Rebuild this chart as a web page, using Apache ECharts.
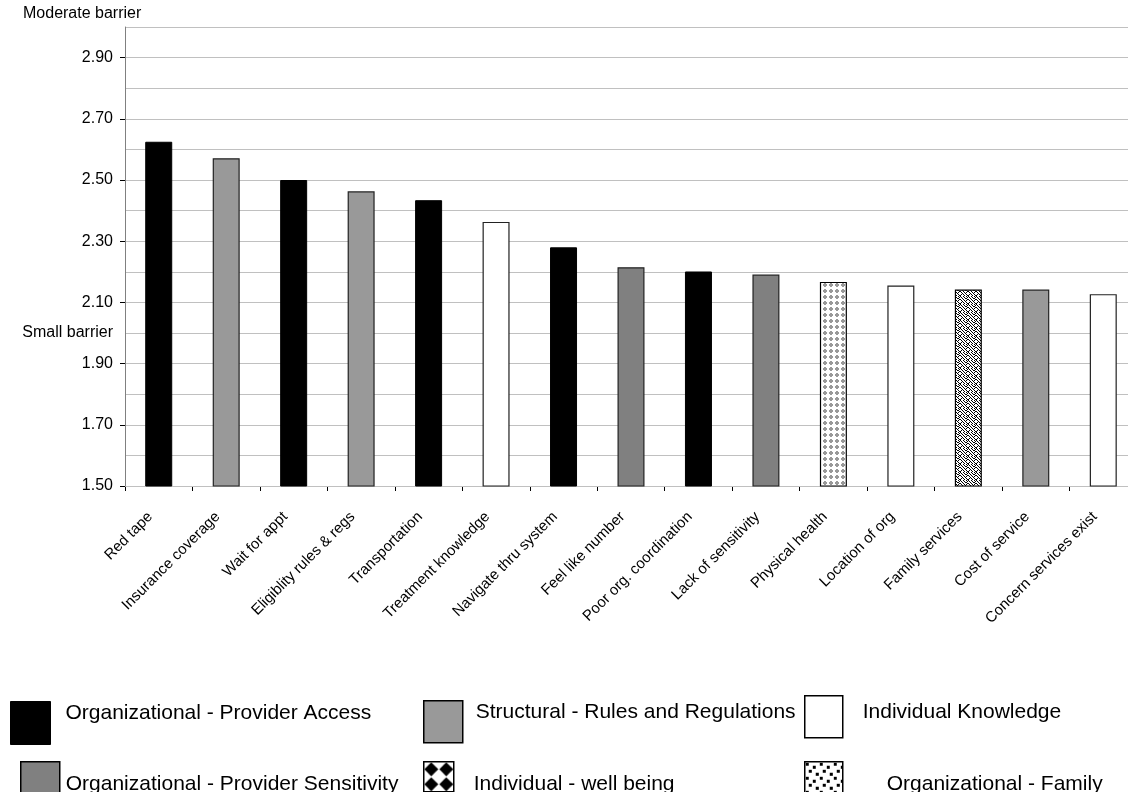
<!DOCTYPE html>
<html>
<head>
<meta charset="utf-8">
<script src="https://cdn.jsdelivr.net/npm/echarts@6/dist/echarts.min.js"></script>
<style>
  html, body { margin: 0; padding: 0; background: #fff; }
  #chart { width: 1128px; height: 792px; }
</style>
</head>
<body>
<div id="chart"></div>
<script>
// Barrier ratings, sorted from highest to lowest
const categories = [
  'Red tape', 'Insurance coverage', 'Wait for appt', 'Eligiblity rules & regs',
  'Transportation', 'Treatment knowledge', 'Navigate thru system', 'Feel like number',
  'Poor org. coordination', 'Lack of sensitivity', 'Physical health', 'Location of org',
  'Family services', 'Cost of service', 'Concern services exist'
];
const values = [
  2.625, 2.571, 2.50, 2.463, 2.434, 2.363, 2.280, 2.215,
  2.201, 2.191, 2.167, 2.155, 2.142, 2.142, 2.127
];
const groupNames = [
  'Organizational - Provider Access',
  'Structural - Rules and Regulations',
  'Individual Knowledge',
  'Organizational - Provider Sensitivity',
  'Individual - well being',
  'Organizational - Family'
];
// index into groupNames for each category
const groupOf = [0, 1, 0, 1, 0, 2, 0, 3, 0, 3, 4, 2, 5, 1, 2];
const yTickValues = [1.5, 1.7, 1.9, 2.1, 2.3, 2.5, 2.7, 2.9];
const smallBarrierValue = 2.0;

const FONT = '"Liberation Sans", Arial, sans-serif';

// ---- fill patterns ----
function makeTile(w, h, draw) {
  const c = document.createElement('canvas');
  c.width = w; c.height = h;
  const ctx = c.getContext('2d');
  ctx.fillStyle = '#fff';
  ctx.fillRect(0, 0, w, h);
  draw(ctx);
  return { image: c, repeat: 'repeat' };
}
// grey crosses on white
const crossFill = makeTile(6, 6, ctx => {
  ctx.fillStyle = '#999999';
  ctx.fillRect(1, 2, 4, 2);
  ctx.fillRect(2, 1, 2, 4);
});
// large black diamonds (legend swatch)
const diamondFill = makeTile(15, 15, ctx => {
  ctx.fillStyle = '#000';
  ctx.beginPath();
  ctx.moveTo(7.5, 0.5); ctx.lineTo(14.5, 7.5); ctx.lineTo(7.5, 14.5); ctx.lineTo(0.5, 7.5);
  ctx.closePath(); ctx.fill();
});
// fine black/white stipple
const stippleBits = [
  '10010010',
  '01001001',
  '00100110',
  '10010001',
  '01001010',
  '00100100',
  '01010010',
  '10001001'
];
const stippleFill = makeTile(8, 8, ctx => {
  ctx.fillStyle = '#000';
  stippleBits.forEach((row, y) => {
    for (let x = 0; x < row.length; x++) if (row[x] === '1') ctx.fillRect(x, y, 1, 1);
  });
});
// scattered black squares (legend swatch)
const dotsFill = makeTile(14, 14, ctx => {
  ctx.fillStyle = '#000';
  ctx.fillRect(1, 1, 3, 3);
  ctx.fillRect(8, 4, 3, 3);
  ctx.fillRect(4, 8, 3, 3);
  ctx.fillRect(11, 11, 3, 3);
});

const groupStyles = [
  { color: '#000000', borderColor: '#000', borderWidth: 1 },
  { color: '#999999', borderColor: '#222', borderWidth: 1.2 },
  { color: '#ffffff', borderColor: '#222', borderWidth: 1.2 },
  { color: '#808080', borderColor: '#222', borderWidth: 1.2 },
  { color: crossFill, borderColor: '#000', borderWidth: 1.2 },
  { color: stippleFill, borderColor: '#000', borderWidth: 1.2 }
];
const legendIconStyles = [
  { color: '#000000', borderColor: '#000', borderWidth: 1 },
  { color: '#999999', borderColor: '#000', borderWidth: 1.5 },
  { color: '#ffffff', borderColor: '#000', borderWidth: 1.5 },
  { color: '#808080', borderColor: '#000', borderWidth: 1.5 },
  { color: diamondFill, borderColor: '#000', borderWidth: 1.5 },
  { color: dotsFill, borderColor: '#000', borderWidth: 1.5 }
];
// legend placement: [left, top, iconW, iconH, textPadding]
const legendLayout = [
  [10, 701, 40, 43, [0, 0, 19, 10]],
  [423, 700, 39, 42, [0, 0, 19, 8]],
  [804, 695, 38, 42, [0, 0, 10, 15]],
  [20, 761, 39, 42, [2, 0, 0, 1]],
  [423, 761, 30, 30, [14, 0, 0, 15]],
  [804, 761, 38, 42, [2, 0, 0, 39]]
];

const series = groupNames.map((name, g) => ({
  name,
  type: 'bar',
  barWidth: 27,
  barGap: '-100%',
  itemStyle: groupStyles[g],
  emphasis: { disabled: true },
  data: values.map((v, i) => (groupOf[i] === g ? v : null))
}));

const legends = groupNames.map((name, g) => {
  const [left, top, w, h, pad] = legendLayout[g];
  return {
    data: [{ name, icon: 'rect', itemStyle: legendIconStyles[g] }],
    left, top,
    padding: 0,
    itemWidth: w,
    itemHeight: h,
    selectedMode: false,
    formatter: n => '{t|' + n + '}',
    textStyle: {
      fontFamily: FONT, fontSize: 21, color: '#000',
      rich: { t: { fontFamily: FONT, fontSize: 21, color: '#000', padding: pad } }
    }
  };
});

const chart = echarts.init(document.getElementById('chart'), null, { renderer: 'canvas' });
chart.setOption({
  animation: false,
  backgroundColor: '#fff',
  // the plot runs slightly past the right edge of the page
  grid: {
    left: 125, top: 27, right: -9, bottom: 306,
    containLabel: false,
    outerBoundsMode: 'none'
  },
  legend: legends,
  xAxis: {
    type: 'category',
    data: categories,
    axisLine: { lineStyle: { color: '#000', width: 1 } },
    axisTick: { show: true, length: 5, lineStyle: { color: '#000' } },
    axisLabel: {
      rotate: 45, interval: 0, margin: 20,
      padding: [0, 12, 0, 0],
      fontFamily: FONT, fontSize: 15, color: '#000'
    },
    splitLine: { show: false }
  },
  yAxis: [{
    type: 'value',
    min: 1.5,
    max: 3.0,
    interval: 0.1,
    axisLine: { show: true, lineStyle: { color: '#808080', width: 1 } },
    axisTick: {
      show: true, length: 5, lineStyle: { color: '#000' },
      customValues: yTickValues
    },
    axisLabel: {
      margin: 12,
      fontFamily: FONT, fontSize: 16, color: '#000',
      customValues: yTickValues.concat([smallBarrierValue]),
      formatter: v => Math.abs(v - smallBarrierValue) < 1e-6 ? 'Small barrier' : v.toFixed(2)
    },
    splitLine: { show: false },
    z: 3
  }, {
    // gridlines every 0.1
    type: 'value',
    min: 1.5,
    max: 3.0,
    interval: 0.1,
    position: 'left',
    axisLine: { show: false },
    axisTick: { show: false },
    axisLabel: { show: false },
    splitLine: { show: true, lineStyle: { color: '#c0c0c0', width: 1 } },
    z: 1
  }],
  graphic: [{
    type: 'text',
    left: 23,
    top: 6,
    style: { text: 'Moderate barrier', fontFamily: FONT, fontSize: 16, fill: '#000' }
  }],
  series
});
</script>
</body>
</html>
